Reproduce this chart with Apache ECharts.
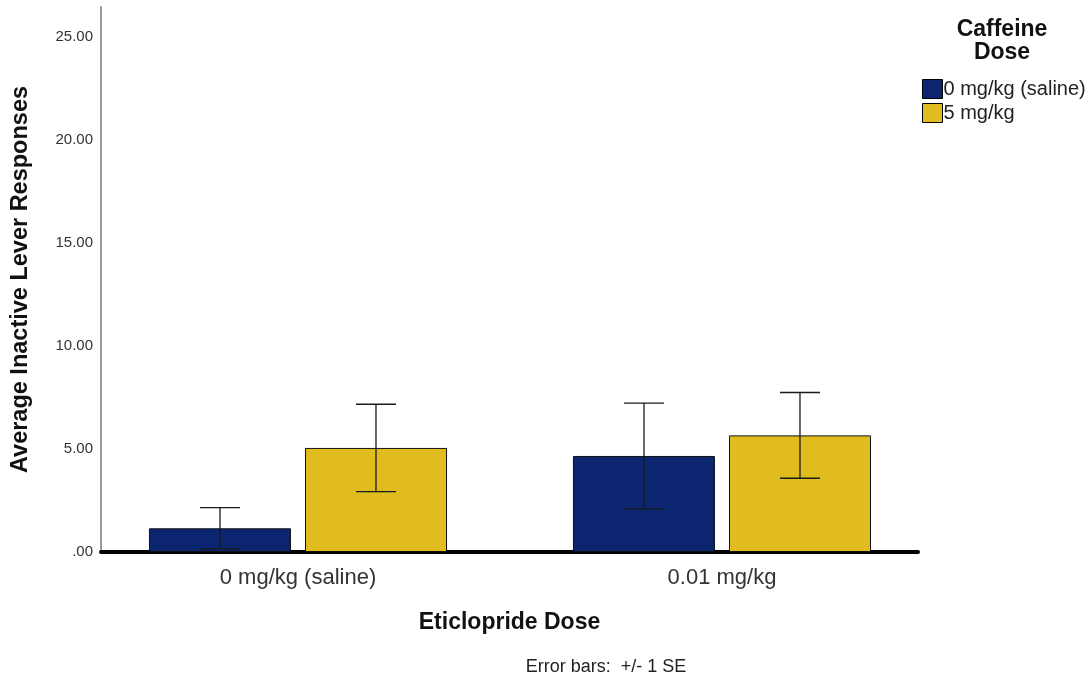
<!DOCTYPE html>
<html>
<head>
<meta charset="utf-8">
<script src="https://cdn.jsdelivr.net/npm/echarts@6/dist/echarts.min.js"></script>
<style>html,body{margin:0;padding:0;background:#fff}#c{width:1086px;height:681px}</style>
</head>
<body>
<div id="c"></div>
<script>
const categories = ["0 mg/kg (saline)", "0.01 mg/kg"];
const seriesNames = ["0 mg/kg (saline)", "5 mg/kg"];
const salineMeans = [1.15, 4.66];
const salineSE = [1.0, 2.57];
const caffeineMeans = [5.05, 5.66];
const caffeineSE = [2.12, 2.08];
const yTicks = [0, 5, 10, 15, 20, 25];

const FONT = '"Liberation Sans", Arial, sans-serif';
const BAR_W = 142;
const GAP = 14;
const OFF = (BAR_W + GAP) / 2;

function barData(means) { return means.map((v, i) => [i, v]); }
function errData(means, se) { return means.map((v, i) => [i, v - se[i], v + se[i]]); }

function errRender(offset) {
  return function (params, api) {
    const x = api.value(0);
    const lo = api.coord([x, api.value(1)]);
    const hi = api.coord([x, api.value(2)]);
    const cx = lo[0] + offset;
    const cap = 20;
    const st = { stroke: '#1a1a1a', lineWidth: 1.3 };
    return {
      type: 'group',
      children: [
        { type: 'line', shape: { x1: cx, y1: lo[1], x2: cx, y2: hi[1] }, style: st },
        { type: 'line', shape: { x1: cx - cap, y1: lo[1], x2: cx + cap, y2: lo[1] }, style: st },
        { type: 'line', shape: { x1: cx - cap, y1: hi[1], x2: cx + cap, y2: hi[1] }, style: st }
      ]
    };
  };
}

const chart = echarts.init(document.getElementById('c'), null, { renderer: 'canvas' });
chart.setOption({
  animation: false,
  backgroundColor: '#ffffff',
  textStyle: { fontFamily: FONT },
  grid: { left: 101, right: 168, top: 7, bottom: 129, containLabel: false },
  legend: {
    orient: 'vertical',
    left: 917,
    top: 74,
    itemWidth: 20,
    itemHeight: 19,
    itemGap: 4,
    icon: 'rect',
    selectedMode: false,
    data: seriesNames,
    textStyle: { fontFamily: FONT, fontSize: 20, color: '#222', padding: [0, 0, 0, -4] },
    itemStyle: { borderColor: '#000', borderWidth: 1 }
  },
  graphic: [
    { type: 'text', x: 1002, y: 30, style: { text: 'Caffeine', font: 'bold 23px ' + FONT, fill: '#111', align: 'center', verticalAlign: 'middle' } },
    { type: 'text', x: 1002, y: 53, style: { text: 'Dose', font: 'bold 23px ' + FONT, fill: '#111', align: 'center', verticalAlign: 'middle' } },
    { type: 'text', x: 606, y: 667, style: { text: 'Error bars:  +/- 1 SE', font: '18px ' + FONT, fill: '#222', align: 'center', verticalAlign: 'middle' } }
  ],
  xAxis: {
    type: 'value',
    min: -0.4646,
    max: 1.4623,
    name: 'Eticlopride Dose',
    nameLocation: 'middle',
    nameGap: 59,
    nameTextStyle: { fontFamily: FONT, fontSize: 23, fontWeight: 'bold', color: '#111' },
    axisLine: { show: true, onZero: true, lineStyle: { color: '#000', width: 4 } },
    axisTick: { show: false },
    splitLine: { show: false },
    axisLabel: {
      customValues: [0, 1],
      formatter: v => categories[Math.round(v)] || '',
      fontFamily: FONT, fontSize: 22, color: '#333', margin: 15
    }
  },
  yAxis: {
    type: 'value',
    min: 0,
    max: 26.45,
    name: 'Average Inactive Lever Responses',
    nameLocation: 'middle',
    nameGap: 68,
    nameRotate: 90,
    nameTextStyle: { fontFamily: FONT, fontSize: 23.5, fontWeight: 'bold', color: '#111' },
    axisLine: { show: true, onZero: false, lineStyle: { color: '#9a9a9a', width: 2 } },
    axisTick: { show: false },
    splitLine: { show: false },
    axisLabel: {
      customValues: yTicks,
      formatter: v => v === 0 ? '.00' : v.toFixed(2),
      fontFamily: FONT, fontSize: 15, color: '#333', margin: 8
    }
  },
  series: [
    {
      name: seriesNames[0], type: 'bar', data: barData(salineMeans),
      barWidth: BAR_W, barGap: (GAP / BAR_W * 100).toFixed(1) + '%',
      itemStyle: { color: '#0b2570', borderColor: '#111', borderWidth: 1 }
    },
    {
      name: seriesNames[1], type: 'bar', data: barData(caffeineMeans),
      barWidth: BAR_W, barGap: (GAP / BAR_W * 100).toFixed(1) + '%',
      itemStyle: { color: '#e0bc1f', borderColor: '#111', borderWidth: 1 }
    },
    { type: 'custom', renderItem: errRender(-OFF), data: errData(salineMeans, salineSE), encode: { x: 0, y: [1, 2] }, z: 5 },
    { type: 'custom', renderItem: errRender(OFF), data: errData(caffeineMeans, caffeineSE), encode: { x: 0, y: [1, 2] }, z: 5 }
  ]
});
</script>
</body>
</html>
